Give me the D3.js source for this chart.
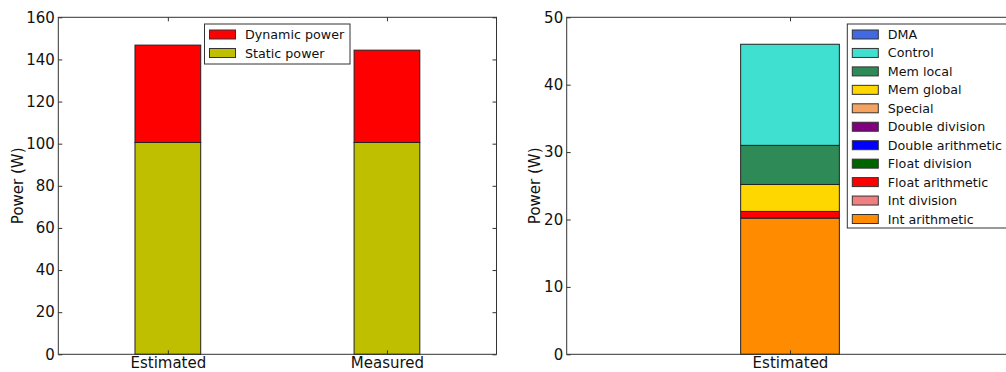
<!DOCTYPE html>
<html>
<head>
<meta charset="utf-8">
<script src="https://cdn.jsdelivr.net/npm/d3@7"></script>
<style>
  body { margin: 0; background: #fff; }
  svg { display: block; font-family: "DejaVu Sans", sans-serif; }
</style>
</head>
<body>
<div id="main"></div>
<script>
// left panel data
const leftCats = ["Estimated", "Measured"]
const leftSeries = ["Static power", "Dynamic power"]
const leftColors = ["#bfbf00", "#ff0000"]
const staticPower = [100.6, 100.6]
const dynamicPower = [46.2, 43.8]
const leftTicks = [0, 20, 40, 60, 80, 100, 120, 140, 160]

// right panel data (stack order bottom -> top)
const rightCats = ["Estimated"]
const rightSeries = ["Int arithmetic", "Int division", "Float arithmetic", "Float division",
  "Double arithmetic", "Double division", "Special", "Mem global", "Mem local", "Control", "DMA"]
const rightColors = ["#ff8c00", "#f08080", "#ff0000", "#006400", "#0000ff", "#800080",
  "#f4a460", "#ffd700", "#2e8b57", "#40e0d0", "#4169e1"]
const rightValues = [20.2, 0, 1.0, 0, 0, 0, 0, 4.0, 5.8, 15.0, 0]
const rightTicks = [0, 10, 20, 30, 40, 50]

const W = 1006, H = 372
const svg = d3.select("#main").append("svg").attr("width", W).attr("height", H)

const yTop = 17.3, yBottom = 354.3
const axisColor = "#333"

function panel(opts) {
  const g = svg.append("g")
  const x = d3.scaleLinear().domain(opts.xDomain).range([opts.x0, opts.x1])
  const y = d3.scaleLinear().domain(opts.yDomain).range([yBottom, yTop])

  // bars
  opts.stacks.forEach(s => {
    g.selectAll(null).data(s.values).enter().append("rect")
      .attr("x", (d, i) => x(i - opts.barW / 2))
      .attr("width", x(opts.barW) - x(0))
      .attr("y", d => y(d[1]))
      .attr("height", d => y(d[0]) - y(d[1]))
      .attr("fill", s.color)
      .attr("stroke", "#222")
      .attr("stroke-width", 1)
  })

  // frame
  g.append("rect").attr("x", opts.x0).attr("y", yTop)
    .attr("width", opts.x1 - opts.x0).attr("height", yBottom - yTop)
    .attr("fill", "none").attr("stroke", axisColor).attr("stroke-width", 1)

  // y ticks (inward, both sides)
  const yl = d3.axisLeft(y).tickValues(opts.yTicks).tickSize(-4).tickPadding(3.5)
  g.append("g").attr("transform", `translate(${opts.x0},0)`).call(yl)
    .call(a => a.select(".domain").remove())
  const yr = d3.axisRight(y).tickValues(opts.yTicks).tickSize(-4).tickFormat("")
  g.append("g").attr("transform", `translate(${opts.x1},0)`).call(yr)
    .call(a => a.select(".domain").remove())

  // x ticks
  const cats = opts.cats.map((c, i) => i)
  const xb = d3.axisBottom(x).tickValues(cats).tickSize(-4)
    .tickFormat(i => opts.cats[i])
  g.append("g").attr("transform", `translate(0,${yBottom})`).call(xb)
    .call(a => a.select(".domain").remove())
    .call(a => a.selectAll("text").attr("y", 14).attr("dy", null))
  const xt = d3.axisTop(x).tickValues(cats).tickSize(-4).tickFormat("")
  g.append("g").attr("transform", `translate(0,${yTop})`).call(xt)
    .call(a => a.select(".domain").remove())

  g.selectAll(".tick line").attr("stroke", axisColor)
  g.selectAll(".tick text").attr("font-size", 15).attr("fill", "#111")
    .attr("font-family", "DejaVu Sans, sans-serif")

  // y label
  g.append("text")
    .attr("transform", `translate(${opts.labelX},${(yTop + yBottom) / 2}) rotate(-90)`)
    .attr("text-anchor", "middle")
    .attr("font-size", 15).attr("fill", "#111")
    .text("Power (W)")

  // legend
  const lg = g.append("g")
  lg.append("rect").attr("x", opts.leg.x).attr("y", opts.leg.y)
    .attr("width", opts.leg.w).attr("height", opts.leg.h)
    .attr("fill", "#fff").attr("stroke", axisColor)
  opts.leg.items.forEach((it, i) => {
    const cy = opts.leg.y + 10.5 + i * opts.leg.step
    lg.append("rect").attr("x", opts.leg.x + 5).attr("y", cy - 4.5)
      .attr("width", 26).attr("height", 9)
      .attr("fill", it.color).attr("stroke", "#333")
    lg.append("text").attr("x", opts.leg.x + 40.5).attr("y", cy)
      .attr("dominant-baseline", "central").attr("font-size", 12.7).attr("fill", "#111")
      .text(it.name)
  })
}

// build stacks
function stackOf(series, cols, valueArrays) {
  const acc = valueArrays[0].map(() => 0)
  return series.map((s, si) => {
    const vals = valueArrays[si].map((v, i) => {
      const r = [acc[i], acc[i] + v]
      acc[i] += v
      return r
    })
    return { name: s, color: cols[si], values: vals }
  })
}

panel({
  x0: 58.3, x1: 496.5, xDomain: [-0.5, 1.5], yDomain: [0, 160], yTicks: leftTicks,
  cats: leftCats, barW: 0.3, labelX: 22.7,
  stacks: stackOf(leftSeries, leftColors, [staticPower, dynamicPower]),
  leg: {
    x: 204.5, y: 24, w: 145.5, h: 40, step: 18.5,
    items: [{ name: "Dynamic power", color: leftColors[1] }, { name: "Static power", color: leftColors[0] }]
  }
})

panel({
  x0: 566.7, x1: 1013.3, xDomain: [-0.5, 0.5], yDomain: [0, 50], yTicks: rightTicks,
  cats: rightCats, barW: 0.221, labelX: 540,
  stacks: stackOf(rightSeries, rightColors, rightValues.map(v => [v])),
  leg: {
    x: 847.3, y: 24, w: 170, h: 204, step: 18.45,
    items: rightSeries.map((s, i) => ({ name: s, color: rightColors[i] })).reverse()
  }
})
</script>
</body>
</html>
